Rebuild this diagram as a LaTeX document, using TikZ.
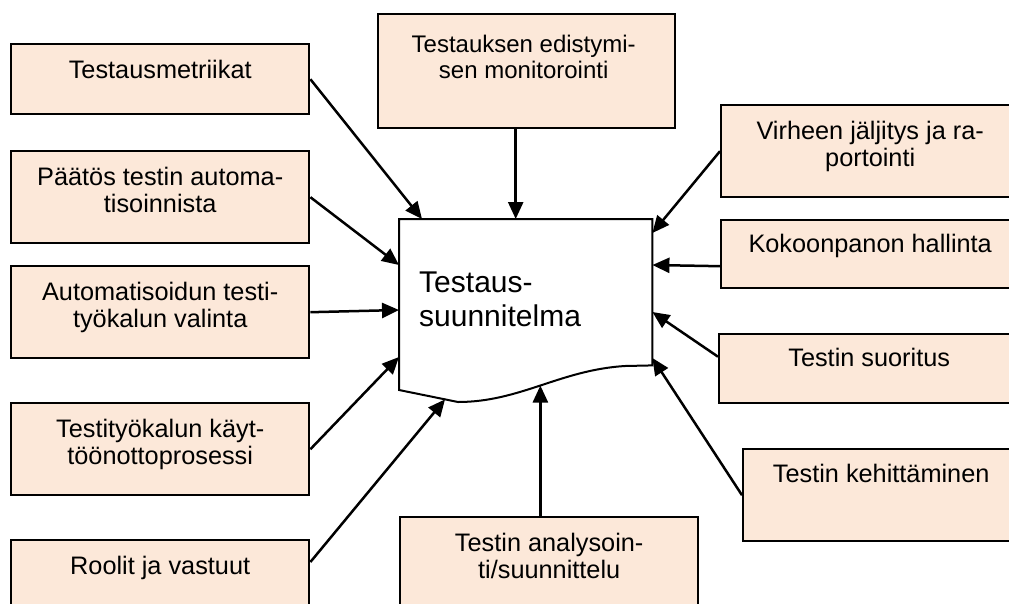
\documentclass[tikz,border=0pt]{standalone}
\usepackage{fontspec}
\setmainfont{Liberation Sans}
\usetikzlibrary{arrows.meta}
\definecolor{peach}{RGB}{252,232,217}
\tikzset{
  topic/.style={draw,line width=2.4pt,fill=peach,anchor=north west,
    minimum width=298pt,minimum height=92pt,inner sep=0pt},
  topictext/.style={anchor=north,align=center,inner sep=0pt,
    font=\fontsize{25.3}{27}\selectfont},
  plantext/.style={anchor=north west,align=left,inner sep=0pt,
    font=\fontsize{30}{34}\selectfont},
  planline/.style={draw,line width=2pt,fill=white},
  feed/.style={draw,line width=2.5pt,-{Triangle[length=17pt,width=15pt]}}
}

\begin{document}
\begin{tikzpicture}[x=1pt,y=-1pt]
  \useasboundingbox (0,0) rectangle (1009,603);
  \clip (0,0) rectangle (1009,603);

  % left column
  \node[topic,minimum height=70pt] (metrics) at (10,43) {};
  \node[topic] (decision) at (10,150) {};
  \node[topic] (selection) at (10,265) {};
  \node[topic] (adoption) at (10,402) {};
  \node[topic] (roles) at (10,539) {};
  % top and bottom
  \node[topic,minimum width=297pt,minimum height=114pt] (monitoring) at (377,13) {};
  \node[topic] (analysis) at (399,516) {};
  % right column
  \node[topic] (defects) at (720,104) {};
  \node[topic,minimum height=68pt] (config) at (720,219) {};
  \node[topic,minimum width=300pt,minimum height=69pt] (execution) at (718,333) {};
  \node[topic,minimum width=276pt] (development) at (742,448) {};

  \node[topictext] (metrics-t) at ([yshift=-16.5pt]metrics.north) {Testausmetriikat};
  \node[topictext] (decision-t) at ([yshift=-16.5pt]decision.north) {Päätös testin automa-\\tisoinnista};
  \node[topictext] (selection-t) at ([yshift=-16.5pt]selection.north) {Automatisoidun testi-\\työkalun valinta};
  \node[topictext] (adoption-t) at ([yshift=-16.5pt]adoption.north) {Testityökalun käyt-\\töönottoprosessi};
  \node[topictext] (roles-t) at ([yshift=-16.5pt]roles.north) {Roolit ja vastuut};
  \node[topictext,font=\fontsize{24}{26}\selectfont] (monitoring-t) at ([xshift=-3pt,yshift=-21.5pt]monitoring.north) {Testauksen edistymi-\\sen monitorointi};
  \node[topictext] (analysis-t) at ([yshift=-16.5pt]analysis.north) {Testin analysoin-\\ti/suunnittelu};
  \node[topictext] (defects-t) at ([yshift=-16.5pt]defects.north) {Virheen jäljitys ja ra-\\portointi};
  \node[topictext] (config-t) at ([yshift=-15pt]config.north) {Kokoonpanon hallinta};
  \node[topictext] (execution-t) at ([yshift=-15pt]execution.north) {Testin suoritus};
  \node[topictext] (development-t) at ([yshift=-16pt]development.north) {Testin kehittäminen};

  % the plan document in the middle
  \node[anchor=north west,inner sep=0pt,minimum width=253pt,minimum height=146pt] (plan) at (399,219) {};
  \path[planline] (plan.north west) -- (plan.north east) -- (plan.south east)
    -- (625,366) .. controls (560,370) and (520,402) .. coordinate[pos=0.5] (wavemid) (458,402)
    -- coordinate[pos=0.22] (wavelow) (399,390) -- cycle;
  \node[plantext] (plan-t) at ([xshift=20pt,yshift=-52.5pt]plan.north west) {Testaus-\\suunnitelma};

  % inputs
  \draw[feed] (metrics.east) -- ([xshift=23pt]plan.north west);
  \draw[feed] (decision.east) -- ([yshift=-46pt]plan.north west);
  \draw[feed] (selection.east) -- ([yshift=-91pt]plan.north west);
  \draw[feed] (adoption.east) -- ([yshift=-138pt]plan.north west);
  \draw[feed] ([yshift=-23pt]roles.north east) -- (wavelow);
  \draw[feed] ([xshift=-11pt]monitoring.south) -- ([xshift=-11pt]monitoring.south |- plan.north);
  \draw[feed] (wavemid |- analysis.north) -- (wavemid);
  \draw[feed] (defects.west) -- ([yshift=-14pt]plan.north east);
  \draw[feed] ([yshift=-12pt]config.west) -- ([yshift=-46pt]plan.north east);
  \draw[feed] ([yshift=12pt]execution.west) -- ([yshift=-93pt]plan.north east);
  \draw[feed] (development.west) -- ([yshift=-139pt]plan.north east);
\end{tikzpicture}
\end{document}
